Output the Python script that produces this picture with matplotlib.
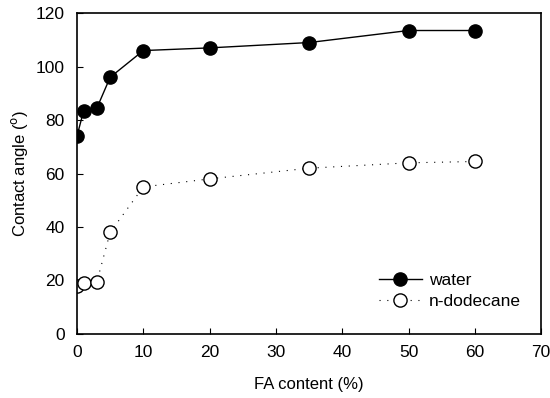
import matplotlib
matplotlib.use('Agg')
import matplotlib.pyplot as plt

plt.rcParams['font.family'] = ['Liberation Sans', 'DejaVu Sans']

# FA content (%)
fa = [0, 1, 3, 5, 10, 20, 35, 50, 60]
# contact angles (deg)
water = [74, 83.5, 84.5, 96, 106, 107, 109, 113.5, 113.5]
dodecane = [18, 19, 19.5, 38, 55, 58, 62, 64, 64.5]

fig = plt.figure(figsize=(5.5, 3.98), dpi=100)
ax = fig.add_axes([0.14, 0.161, 0.844, 0.806])

ax.plot(fa, water, '-o', color='black', lw=1, ms=9.5, mfc='black', mec='black',
        label='water')
ax.plot(fa, dodecane, ':o', color='black', lw=0.8, ms=9.5, mfc='white', mec='black',
        label='n-dodecane', dashes=(1, 6))

ax.set_xlim(0, 70)
ax.set_ylim(0, 120)
ax.set_xticks(range(0, 71, 10))
ax.set_yticks(range(0, 121, 20))
ax.tick_params(direction='in', length=4, labelsize=12.5)
ax.tick_params(axis='x', pad=8)
ax.tick_params(axis='y', pad=9)
for s in ax.spines.values():
    s.set_linewidth(1.2)

ax.set_xlabel('FA content (%)', fontsize=12, labelpad=12)
ax.set_ylabel('Contact angle ($^\\mathrm{o}$)', fontsize=12, labelpad=4)

ax.legend(loc='lower right', bbox_to_anchor=(0.99, 0.03), frameon=False,
          fontsize=12.5, handlelength=2.5, handletextpad=0.4, labelspacing=0.3)

fig.savefig('out.png', dpi=100)
